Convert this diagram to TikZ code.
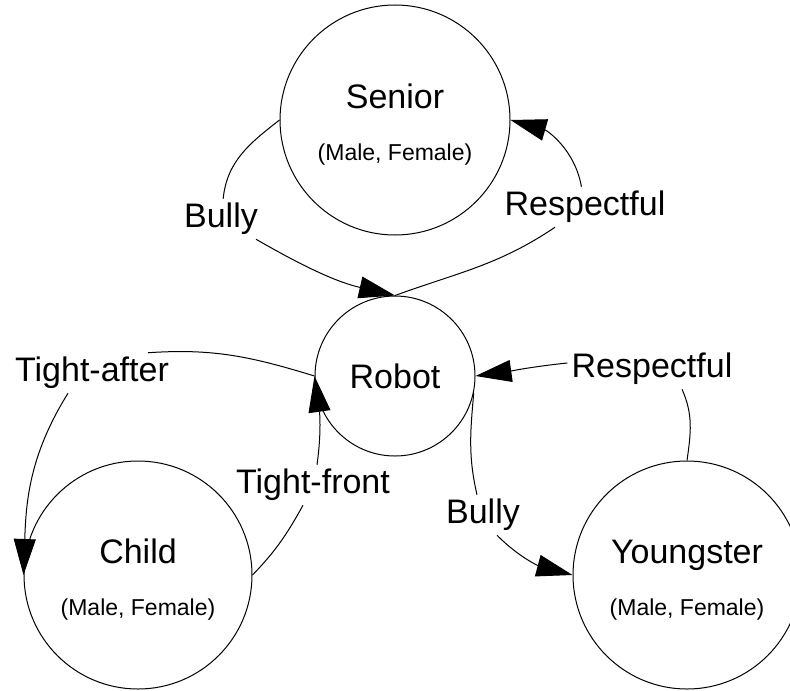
\documentclass[tikz,border=0pt]{standalone}
\usepackage{fontspec}
\setmainfont{Liberation Sans}
\usetikzlibrary{arrows.meta}
\tikzset{
  agent/.style={circle, draw, line width=0.5pt, inner sep=0pt, minimum size=#1, align=center, font=\fontsize{17}{20}\selectfont},
  rel/.style={font=\fontsize{17}{20}\selectfont, inner sep=2pt},
  link/.style={line width=0.5pt},
  tip/.style={line width=0.5pt, -{Triangle[length=18pt,width=11pt]}}
}
\newcommand{\gendertag}{{\fontsize{11.5}{14}\selectfont (Male, Female)}}
\newcommand{\padtop}{\rule{0pt}{16.5pt}}
\begin{document}
\begin{tikzpicture}[x=0.5pt,y=-0.5pt]
  \useasboundingbox (0,0) rectangle (790,690);
  \node[agent=115pt] (senior) at (395,120) {\padtop Senior\\[6pt]\gendertag};
  \node[agent=80pt] (robot) at (395,376) {Robot};
  \node[agent=114pt] (child) at (138,575) {\padtop Child\\[6pt]\gendertag};
  \node[agent=114pt] (young) at (687,575) {\padtop Youngster\\[6pt]\gendertag};

  \node[rel] (bullyS) at (221,219) {Bully};
  \node[rel] (respS) at (585,207) {Respectful};
  \node[rel] (after) at (92,373) {Tight-after};
  \node[rel] (front) at (313,485) {Tight-front};
  \node[rel] (respY) at (652,369) {Respectful};
  \node[rel] (bullyY) at (483,515) {Bully};

  \draw[link] (senior.west) to[out=218,in=84] (bullyS);
  \draw[tip] (bullyS) to[out=-30,in=167] (robot.north);
  \draw[link] (robot.north) to[out=20,in=214] (respS);
  \draw[tip] (respS) to[out=100,in=-16] (senior.east);

  \draw[link] (robot.west) to[out=163,in=4] ([xshift=28pt]after.north);
  \draw[tip] ([xshift=-12pt]after.south) to[out=238,in=88] (child.west);
  \draw[link] (child.east) to[out=46,in=241] ([xshift=-5pt]front.south);
  \draw[tip] ([xshift=2pt]front.north) to[out=82,in=-82] (robot.west);

  \draw[link] (young.north) to[out=82,in=-66] ([xshift=15pt]respY.south);
  \draw[tip] ([yshift=3pt]respY.west) to[out=186,in=8] (robot.east);
  \draw[link] (robot.-12) to[out=-95,in=103] ([xshift=-3pt]bullyY.north);
  \draw[tip] ([xshift=7pt]bullyY.south) to[out=-45,in=165] (young.west);
\end{tikzpicture}
\end{document}
